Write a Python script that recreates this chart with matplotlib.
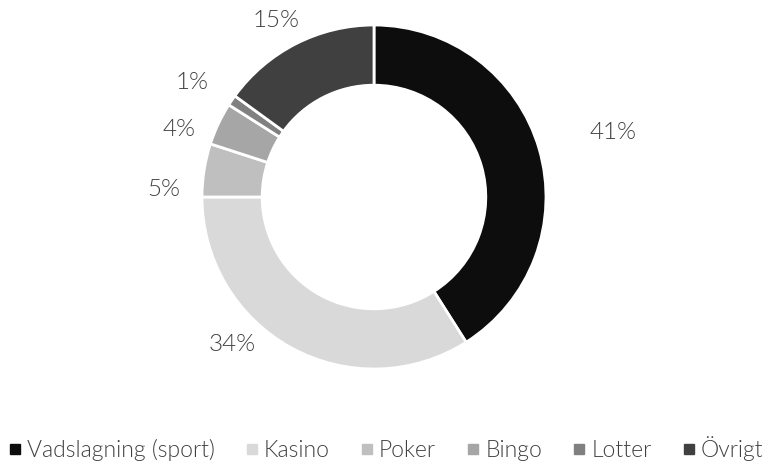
import numpy as np
import matplotlib.pyplot as plt
from matplotlib.lines import Line2D

plt.rcParams['font.family'] = ['Lato', 'DejaVu Sans']

categories = ['Vadslagning (sport)', 'Kasino', 'Poker', 'Bingo', 'Lotter', 'Övrigt']
shares = [41, 34, 5, 4, 1, 15]
colors = ['#0d0d0d', '#d9d9d9', '#bfbfbf', '#a6a6a6', '#808080', '#404040']

# label placement tweaks (radius in units of R, angle shift in degrees)
label_r = [1.44, 1.19, 1.22, 1.20, 1.25, 1.17]
label_da = [-1, -15, 7, 6, 2, 2]

text_color = '#404040'

fig = plt.figure(figsize=(7.68, 4.61), dpi=100)
W, H = 768, 461
cx, cy, R = 374, 197, 172
ax = fig.add_axes([(cx - R) / W, (H - cy - R) / H, 2 * R / W, 2 * R / H])

wedges, _ = ax.pie(shares, colors=colors, startangle=90, counterclock=False,
                   radius=1.0,
                   wedgeprops=dict(width=0.35, edgecolor='white', linewidth=2))
ax.set_xlim(-1, 1)
ax.set_ylim(-1, 1)
ax.set_aspect('equal')

for w, v, r, da in zip(wedges, shares, label_r, label_da):
    ang = np.deg2rad((w.theta1 + w.theta2) / 2 + da)
    ax.text(r * np.cos(ang), r * np.sin(ang), f'{v}%', ha='center', va='center',
            fontsize=17.5, fontweight=300, color=text_color, clip_on=False)

handles = [Line2D([], [], marker='s', linestyle='none', markersize=7,
                  markerfacecolor=c, markeredgecolor=c) for c in colors]
fig.legend(handles, categories, loc='center', bbox_to_anchor=(386.5 / W, 1 - 449 / H),
           ncol=6, frameon=False, handlelength=0.45, handletextpad=0.3,
           columnspacing=1.4, prop=dict(size=16.5, weight=300),
           labelcolor=text_color)

fig.savefig('out.png', dpi=100)
